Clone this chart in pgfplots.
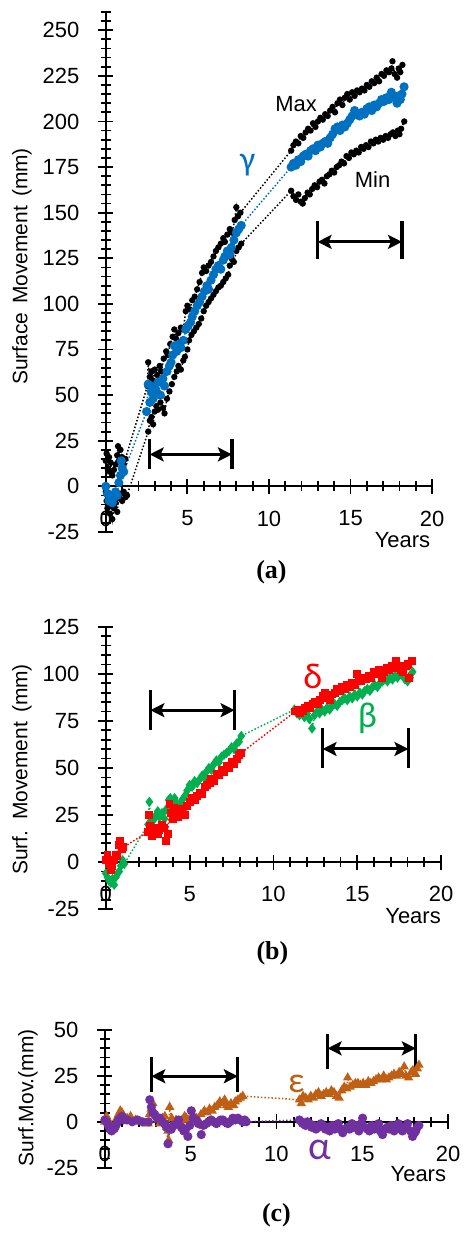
\documentclass[border=0pt]{standalone}
\usepackage{fontspec}
\setmainfont{Liberation Sans}
\newfontfamily\grk{Carlito}
\newfontfamily\capfont{Liberation Serif}
\usepackage{pgfplots}
\pgfplotsset{compat=1.18}
\usetikzlibrary{arrows.meta}

\definecolor{gblue}{HTML}{0070C0}
\definecolor{dred}{HTML}{FF0000}
\definecolor{bgreen}{HTML}{00B050}
\definecolor{ebrown}{HTML}{BF5F14}
\definecolor{apurple}{HTML}{7030A0}

\pgfplotsset{
  movaxis/.style={
    scale only axis, clip=false,
    axis x line=middle, axis y line=left,
    axis line style={-, line width=1pt},
    xmin=0, xmax=20, xtick={0,5,10,15,20}, xticklabels={0,5,10,15,20},
    extra x ticks={1,2,3,4,6,7,8,9,11,12,13,14,16,17,18,19},
    extra x tick labels={},
    extra x tick style={major tick length=5pt},
    extra y tick labels={},
    extra y tick style={major tick length=5pt},
    tick align=center,
    major tick length=7.5pt,
    every tick/.style={black, line width=0.9pt},
    tick label style={font=\fontsize{11}{13}\selectfont},
    xticklabel style={yshift=-5pt},
    yticklabel style={xshift=-6pt},
    hide obscured x ticks=false, hide obscured y ticks=false,
  },
  ser/.style={densely dotted, line width=0.75pt, mark options={solid}},
}
\tikzset{
  span/.style={line width=1.6pt},
  spanarrow/.style={line width=1.5pt, {Stealth[length=7pt,width=7pt,inset=1.5pt]}-{Stealth[length=7pt,width=7pt,inset=1.5pt]}},
  lab/.style={font=\fontsize{11}{13}\selectfont},
}

\begin{document}
\begin{tikzpicture}
\path (0,0) rectangle (231pt,-617pt);

% ---------- (a) ----------
\begin{axis}[movaxis, at={(53pt,-266.5pt)}, anchor=south west,
  width=163.5pt, height=260.5pt, ymin=-25, ymax=260,
  ytick={-25,0,...,250}, yticklabels={-25,0,25,50,75,100,125,150,175,200,225,250},
  extra y ticks={-20,-15,-10,-5,5,10,15,20,30,35,40,45,55,60,65,70,80,85,90,95,105,110,115,120,130,135,140,145,155,160,165,170,180,185,190,195,205,210,215,220,230,235,240,245,255,260}]
% Max
\addplot[ser, black, mark=*, mark size=1.2pt] coordinates {
 (0,14) (0.05,18) (0.1,10) (0.2,16) (0.25,8) (0.3,13) (0.4,6) (0.5,9) (0.6,12) (0.7,17) (0.75,22) (0.8,14) (0.9,20) (1.0,16) (1.1,12) (1.2,15)
 (2.55,55) (2.6,68) (2.7,60) (2.8,63) (2.9,58) (3.0,64) (3.15,61) (3.3,66) (3.4,63) (3.55,70) (3.7,74) (3.8,72) (3.95,78) (4.1,82) (4.2,86) (4.3,81) (4.45,84) (4.6,87) (4.75,86) (4.9,96) (5.0,99) (5.15,97) (5.3,102) (5.45,104) (5.6,108) (5.75,112) (5.9,117) (6.0,120) (6.15,118) (6.3,121) (6.45,123) (6.6,126) (6.75,129) (6.9,131) (7.05,133) (7.2,136) (7.3,134) (7.45,138) (7.6,141) (7.75,139) (7.9,146) (8.0,153) (8.1,148) (8.25,150)
 (11.36,184) (11.5,187) (11.65,189) (11.8,188) (11.95,192) (12.1,191) (12.25,194) (12.4,196) (12.55,195) (12.7,199) (12.85,197) (13.0,200) (13.15,202) (13.3,201) (13.45,204) (13.6,203) (13.75,206) (13.9,208) (14.05,205) (14.2,210) (14.35,212) (14.5,209) (14.65,213) (14.8,215) (14.95,212) (15.1,216) (15.25,214) (15.4,217) (15.55,216) (15.7,218) (15.85,217) (16.0,220) (16.15,219) (16.3,222) (16.45,221) (16.6,224) (16.75,222) (16.9,226) (17.05,225) (17.2,228) (17.35,227) (17.5,229) (17.57,233) (17.7,226) (17.85,224) (17.95,229) (18.05,227) (18.18,231)
};
% Min
\addplot[ser, black, mark=*, mark size=1.2pt] coordinates {
 (0,-3) (0.05,-8) (0.1,-12) (0.2,-6) (0.25,-15) (0.3,-10) (0.4,-18) (0.5,-12) (0.6,-9) (0.7,-14) (0.8,-6) (0.9,-4) (1.0,-8) (1.1,-3) (1.2,-6) (1.3,-5)
 (2.6,30) (2.7,36) (2.8,38) (2.9,34) (3.0,41) (3.1,44) (3.2,42) (3.35,46) (3.5,43) (3.6,40) (3.75,48) (3.9,52) (4.05,56) (4.2,60) (4.35,63) (4.45,66) (4.6,64) (4.75,69) (4.85,71) (5.0,75) (5.1,80) (5.25,83) (5.4,85) (5.55,87) (5.7,89) (5.85,92) (6.0,96) (6.15,99) (6.3,101) (6.45,103) (6.6,105) (6.75,107) (6.9,109) (7.05,110) (7.2,112) (7.35,114) (7.5,116) (7.6,121) (7.7,125) (7.85,123) (8.0,129) (8.15,131) (8.3,133)
 (11.36,162) (11.5,159) (11.66,157) (11.8,160) (11.95,156) (12.07,155) (12.2,158) (12.37,161) (12.5,160) (12.65,163) (12.8,165) (12.95,164) (13.1,167) (13.25,168) (13.4,166) (13.55,170) (13.7,171) (13.85,173) (14.0,172) (14.15,175) (14.3,176) (14.45,178) (14.6,177) (14.75,181) (14.9,180) (15.05,183) (15.2,182) (15.35,184) (15.5,183) (15.65,186) (15.8,185) (15.95,187) (16.1,186) (16.25,189) (16.4,188) (16.55,190) (16.7,189) (16.85,191) (17.0,190) (17.15,192) (17.3,191) (17.45,193) (17.6,194) (17.75,192) (17.9,195) (18.0,193) (18.1,196) (18.29,200)
};
% gamma
\addplot[ser, gblue, mark=*, mark size=1.9pt] coordinates {
 (0,0) (0.1,-4) (0.2,-8) (0.3,-5) (0.4,-9) (0.5,-6) (0.6,-3) (0.7,-5) (0.8,2) (0.9,6) (0.95,14) (1.0,10) (1.1,8)
 (2.5,41) (2.6,56) (2.7,46) (2.8,52) (2.9,48) (3.0,55) (3.1,52) (3.2,57) (3.35,50) (3.5,59) (3.6,55) (3.75,63) (3.9,66) (4.0,68) (4.1,72) (4.2,77) (4.35,74) (4.5,78) (4.6,76) (4.75,80) (4.9,86) (5.05,88) (5.2,90) (5.3,93) (5.45,96) (5.6,99) (5.75,101) (5.9,104) (6.05,107) (6.2,110) (6.3,108) (6.45,113) (6.6,116) (6.75,119) (6.9,121) (7.05,119) (7.2,124) (7.3,126) (7.45,129) (7.6,127) (7.7,131) (7.85,135) (8.0,139) (8.15,141) (8.3,143)
 (11.36,175) (11.5,177) (11.65,176) (11.8,179) (11.95,178) (12.1,181) (12.25,182) (12.4,181) (12.55,184) (12.7,185) (12.85,184) (13.0,187) (13.15,186) (13.3,188) (13.45,189) (13.6,188) (13.75,191) (13.9,193) (14.05,196) (14.2,197) (14.35,195) (14.5,198) (14.65,197) (14.8,199) (14.95,201) (15.1,203) (15.25,206) (15.4,204) (15.55,203) (15.7,205) (15.85,204) (16.0,207) (16.15,208) (16.3,206) (16.45,209) (16.6,208) (16.75,210) (16.9,212) (17.05,211) (17.2,213) (17.35,212) (17.5,216) (17.6,214) (17.75,213) (17.85,210) (17.95,214) (18.05,212) (18.15,215) (18.28,219)
};
\draw[span] (axis cs:2.69,9.4) -- (axis cs:2.69,25.7);
\draw[span] (axis cs:7.73,9.4) -- (axis cs:7.73,25.7);
\draw[spanarrow] (axis cs:2.69,17.5) -- (axis cs:7.73,17.5);
\draw[span] (axis cs:12.98,124.5) -- (axis cs:12.98,145.3);
\draw[span] (axis cs:18.15,124.5) -- (axis cs:18.15,145.3);
\draw[spanarrow] (axis cs:12.98,134) -- (axis cs:18.15,134);
\node[lab] at (axis cs:11.66,209.6) {Max};
\node[lab] at (axis cs:16.35,168) {Min};
\node[gblue, font=\grk\fontsize{17}{19}\selectfont] at (axis cs:8.7,176) {γ};
\node[lab, anchor=east, inner sep=0pt] at (axis cs:19.9,-29.3) {Years};
\end{axis}

% ---------- (b) ----------
\begin{axis}[movaxis, at={(53pt,-455.5pt)}, anchor=south west,
  width=168pt, height=141.5pt, ymin=-25, ymax=125,
  ytick={-25,0,...,125}, yticklabels={-25,0,25,50,75,100,125},
  extra y ticks={-20,-15,-10,-5,5,10,15,20,30,35,40,45,55,60,65,70,80,85,90,95,105,110,115,120}]
% beta
\addplot[ser, bgreen, mark=diamond*, mark size=2pt] coordinates {
 (0,-6) (0.1,-8) (0.2,-10) (0.3,-11) (0.4,-9) (0.5,-12) (0.6,-8) (0.7,-6) (0.8,-5) (0.9,-2) (1.0,1) (1.1,-1)
 (2.52,20) (2.6,32) (2.7,21) (2.8,18) (2.9,23) (3.0,25) (3.1,27) (3.2,24) (3.35,26) (3.5,23) (3.6,28) (3.75,33) (3.85,34) (4.0,32) (4.1,34) (4.25,31) (4.4,30) (4.55,33) (4.7,35) (4.85,38) (5.0,41) (5.15,40) (5.3,43) (5.45,42) (5.6,44) (5.75,46) (5.9,45) (6.0,48) (6.15,50) (6.3,49) (6.45,52) (6.6,54) (6.75,53) (6.9,56) (7.05,57) (7.2,58) (7.35,59) (7.5,61) (7.65,60) (7.8,63) (7.95,64) (8.08,67)
 (11.25,81) (11.4,79) (11.55,78) (11.7,80) (11.85,77) (12.0,79) (12.14,76) (12.3,71) (12.45,78) (12.6,80) (12.75,79) (12.9,81) (13.05,80) (13.2,82) (13.35,81) (13.5,83) (13.65,84) (13.8,83) (13.95,85) (14.1,86) (14.25,87) (14.4,86) (14.55,88) (14.7,87) (14.85,89) (15.0,88) (15.15,90) (15.3,89) (15.45,91) (15.6,92) (15.75,91) (15.9,93) (16.05,94) (16.2,93) (16.35,95) (16.5,96) (16.65,97) (16.8,96) (16.95,98) (17.1,97) (17.25,99) (17.4,98) (17.55,100) (17.7,99) (17.85,97) (18.0,96) (18.15,98) (18.3,101)
};
% delta
\addplot[ser, dred, mark=square*, mark size=1.6pt] coordinates {
 (0,1) (0.1,4) (0.2,-1) (0.3,-4) (0.4,-2) (0.5,1) (0.6,4) (0.7,3) (0.8,9) (0.85,11) (0.95,7) (1.05,8)
 (2.52,16) (2.6,25) (2.65,19) (2.75,14) (2.85,16) (2.95,18) (3.1,15) (3.2,17) (3.35,20) (3.5,18) (3.6,11) (3.7,15) (3.8,31) (3.9,26) (4.0,23) (4.1,29) (4.2,26) (4.3,24) (4.4,28) (4.55,27) (4.7,25) (4.85,30) (5.0,32) (5.15,34) (5.3,33) (5.45,35) (5.6,37) (5.75,36) (5.9,40) (6.05,41) (6.2,42) (6.3,44) (6.45,43) (6.6,47) (6.75,46) (6.9,49) (7.05,48) (7.2,51) (7.35,50) (7.5,53) (7.65,52) (7.8,55) (7.95,57) (8.08,58)
 (11.3,80) (11.45,81) (11.6,79) (11.75,80) (11.9,82) (12.05,83) (12.2,82) (12.35,84) (12.5,85) (12.65,84) (12.8,86) (12.95,88) (13.05,90) (13.2,87) (13.35,86) (13.5,89) (13.65,90) (13.8,92) (13.95,91) (14.1,93) (14.25,92) (14.4,94) (14.55,93) (14.7,95) (14.85,94) (15.0,100) (15.1,98) (15.25,96) (15.4,98) (15.55,97) (15.7,99) (15.85,98) (16.0,101) (16.15,100) (16.3,102) (16.45,98) (16.6,101) (16.75,103) (16.9,102) (17.05,104) (17.2,103) (17.3,107) (17.45,104) (17.6,102) (17.75,101) (17.9,104) (18.0,105) (18.1,98) (18.25,107)
};
\draw[span] (axis cs:2.66,70.4) -- (axis cs:2.66,91.6);
\draw[span] (axis cs:7.68,70.4) -- (axis cs:7.68,91.6);
\draw[spanarrow] (axis cs:2.66,80.7) -- (axis cs:7.68,80.7);
\draw[span] (axis cs:12.93,50) -- (axis cs:12.93,71.3);
\draw[span] (axis cs:18.05,50) -- (axis cs:18.05,71.3);
\draw[spanarrow] (axis cs:12.93,60.1) -- (axis cs:18.05,60.1);
\node[dred, font=\grk\fontsize{18}{20}\selectfont] at (axis cs:12.34,98.8) {δ};
\node[bgreen, font=\grk\fontsize{18}{20}\selectfont] at (axis cs:15.6,76.6) {β};
\node[lab, anchor=east, inner sep=0pt] at (axis cs:20.0,-28.7) {Years};
\end{axis}

% ---------- (c) ----------
\begin{axis}[movaxis, at={(52.5pt,-585pt)}, anchor=south west,
  width=172pt, height=69pt, ymin=-25, ymax=50,
  ytick={-25,0,25,50}, yticklabels={-25,0,25,50},
  extra y ticks={-20,-15,-10,-5,5,10,15,20,30,35,40,45}]
% epsilon
\addplot[ser, ebrown, mark=triangle*, mark size=2pt] coordinates {
 (0,0) (0.1,3) (0.2,1) (0.3,-2) (0.4,-3) (0.5,-4) (0.6,-2) (0.7,2) (0.8,4) (0.9,6) (1.0,5) (1.1,3) (1.3,2) (1.5,3) (1.8,1) (2.1,0) (2.4,-1)
 (2.52,-1) (2.6,4) (2.7,7) (2.8,10) (2.9,5) (3.0,3) (3.1,1) (3.2,-1) (3.35,2) (3.5,3) (3.6,-3) (3.68,-5) (3.72,-10) (3.78,8) (3.9,2) (4.0,-1) (4.15,1) (4.26,-2) (4.4,0) (4.5,1) (4.65,3) (4.75,2) (4.9,1) (5.05,2) (5.2,3) (5.35,2) (5.45,1) (5.6,4) (5.8,6) (5.95,5) (6.1,7) (6.25,6) (6.4,8) (6.55,9) (6.7,11) (6.85,10) (6.98,12) (7.1,9) (7.2,8) (7.35,10) (7.5,9) (7.6,11) (7.75,12) (7.9,13) (8.04,14)
 (11.34,12) (11.45,10) (11.55,14) (11.7,13) (11.85,12) (12.0,14) (12.15,13) (12.3,15) (12.45,16) (12.6,14) (12.75,15) (12.9,16) (13.05,15) (13.2,17) (13.35,16) (13.5,14) (13.65,13) (13.8,17) (13.95,19) (14.1,18) (14.15,24) (14.3,19) (14.45,20) (14.6,21) (14.75,21) (14.9,20) (15.05,21) (15.2,20) (15.35,22) (15.5,21) (15.65,22) (15.8,23) (15.95,24) (16.1,23) (16.25,25) (16.4,23) (16.55,24) (16.7,25) (16.85,26) (17.0,25) (17.15,27) (17.3,26) (17.44,30) (17.55,25) (17.7,24) (17.85,27) (17.95,28) (18.1,26) (18.2,29) (18.3,31)
};
% alpha
\addplot[ser, apurple, mark=*, mark size=1.9pt] coordinates {
 (0,1) (0.1,0) (0.2,-2) (0.3,-4) (0.4,-5) (0.5,-4) (0.6,-3) (0.7,-1) (0.8,1) (0.9,2) (1.0,3) (1.1,1) (1.3,1) (1.6,0) (1.9,1) (2.2,0)
 (2.55,0) (2.62,12) (2.71,8) (2.8,5) (2.91,4) (3.05,2) (3.2,2) (3.35,0) (3.49,-1) (3.6,-3) (3.68,-12) (3.78,-4) (3.88,-4) (4.0,-2) (4.17,-1) (4.3,1) (4.46,-3) (4.6,-5) (4.72,-4) (4.84,-8) (4.95,-2) (5.04,6) (5.15,2) (5.33,1) (5.45,-1) (5.62,-7) (5.75,-2) (5.91,-1) (6.05,0) (6.2,1) (6.35,0) (6.5,-1) (6.6,0) (6.75,1) (6.88,1) (7.0,0) (7.17,-1) (7.3,0) (7.46,2) (7.6,1) (7.75,2) (7.9,1) (8.04,0) (8.15,1) (8.24,0)
 (11.34,1) (11.45,0) (11.53,-1) (11.7,-2) (11.8,0) (11.92,-1) (12.05,-3) (12.15,-2) (12.3,-4) (12.45,-3) (12.6,-1) (12.7,-2) (12.85,-4) (13.0,-3) (13.1,-5) (13.25,-2) (13.4,-4) (13.47,-3) (13.6,-1) (13.75,-4) (13.86,-6) (14.0,-4) (14.15,-3) (14.25,-4) (14.4,-1) (14.5,-3) (14.63,-2) (14.8,-5) (14.95,-1) (15.02,2) (15.15,-3) (15.3,-4) (15.41,-5) (15.55,-2) (15.7,-4) (15.8,-3) (15.95,-1) (16.05,-5) (16.18,-7) (16.3,-4) (16.45,-3) (16.57,-4) (16.7,-2) (16.85,-5) (16.96,-2) (17.1,-1) (17.2,-4) (17.34,-5) (17.5,-3) (17.64,-1) (17.8,-5) (17.93,-8) (18.05,-6) (18.12,-5) (18.2,-3) (18.3,-2)
};
\draw[span] (axis cs:2.71,16.1) -- (axis cs:2.71,35.2);
\draw[span] (axis cs:7.75,16.1) -- (axis cs:7.75,35.2);
\draw[spanarrow] (axis cs:2.71,24.8) -- (axis cs:7.75,24.8);
\draw[span] (axis cs:12.98,28.8) -- (axis cs:12.98,47.8);
\draw[span] (axis cs:18.12,28.8) -- (axis cs:18.12,47.8);
\draw[spanarrow] (axis cs:12.98,40) -- (axis cs:18.12,40);
\node[ebrown, font=\grk\fontsize{18}{20}\selectfont] at (axis cs:11.15,20.6) {ε};
\node[apurple, font=\grk\fontsize{20}{22}\selectfont] at (axis cs:12.5,-15.6) {α};
\node[lab, anchor=east, inner sep=0pt] at (axis cs:19.9,-28.3) {Years};
\end{axis}

% axis titles and panel captions
\node[font=\fontsize{10.5}{12}\selectfont, rotate=90] at (11pt,-133.5pt) {Surface\hspace{0.15em} Movement\hspace{0.15em} (mm)};
\node[font=\fontsize{10.5}{12}\selectfont, rotate=90] at (11pt,-385.5pt) {Surf.\hspace{0.15em} Movement\hspace{0.15em} (mm)};
\node[font=\fontsize{10.5}{12}\selectfont, rotate=90] at (14pt,-550pt) {Surf.Mov.(mm)};
\node[font=\capfont\bfseries\fontsize{13}{15}\selectfont] at (136pt,-286.5pt) {(a)};
\node[font=\capfont\bfseries\fontsize{13}{15}\selectfont] at (136.5pt,-477.5pt) {(b)};
\node[font=\capfont\bfseries\fontsize{13}{15}\selectfont] at (138.5pt,-609pt) {(c)};
\end{tikzpicture}
\end{document}
